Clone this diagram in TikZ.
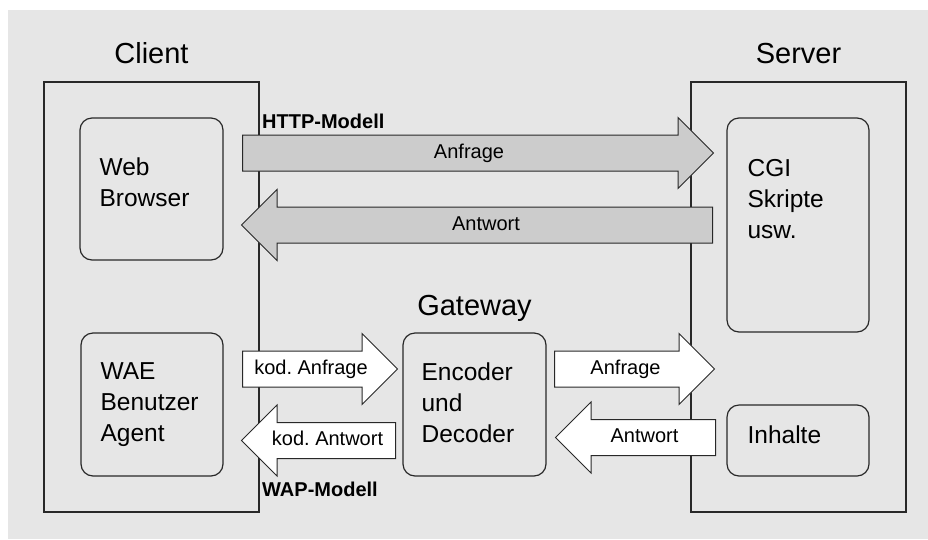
\documentclass[tikz,border=0pt]{standalone}
\usepackage{fontspec}
\setmainfont{Liberation Sans}
\usetikzlibrary{shapes.arrows}

\definecolor{bggray}{RGB}{230,230,230}
\definecolor{arrowgray}{RGB}{204,204,204}
\definecolor{linegray}{RGB}{40,40,40}

\tikzset{
    area/.style={draw=linegray, line width=1.2pt, inner sep=0pt},
    unit/.style={draw=linegray, line width=1.2pt, rounded corners=12pt, inner sep=0pt},
    unittext/.style={anchor=north west, inner sep=0pt, align=left, font=\fontsize{24.5}{31}\selectfont},
    title/.style={anchor=base, inner sep=0pt, font=\fontsize{29}{34}\selectfont},
    model/.style={anchor=base west, inner sep=0pt, font=\bfseries\fontsize{20}{24}\selectfont},
    flow/.style={single arrow, draw=linegray, line width=1pt, inner xsep=0pt, inner ysep=8pt,
        text height=14.5pt, text depth=4.5pt,
        single arrow head extend=17.5pt, single arrow tip angle=90,
        anchor=tail, font=\fontsize{20}{24}\selectfont},
    back/.style={shape border rotate=180},
}

\begin{document}
\begin{tikzpicture}[x=1pt, y=-1pt]
        \useasboundingbox (0, 0) rectangle (928, 539);
        \fill[bggray] (8, 10) rectangle (928, 539);

        % client and server side
        \node[area, minimum width=215pt, minimum height=430pt] (client) at (151.5, 297) {};
        \node[area, minimum width=215pt, minimum height=430pt] (server) at (798.5, 297) {};
        \node[title] (clienttitle) at (151.5, 63) {Client};
        \node[title] (servertitle) at (798.5, 63) {Server};
        \node[title] (gatewaytitle) at (474.5, 315) {Gateway};

        % units
        \node[unit, minimum width=143pt, minimum height=142pt] (browser) at (151.5, 189) {};
        \node[unit, minimum width=142pt, minimum height=214pt] (cgi) at (798, 225) {};
        \node[unit, minimum width=142pt, minimum height=143pt] (wae) at (152, 404.5) {};
        \node[unit, minimum width=143pt, minimum height=143pt] (codec) at (474.5, 404.5) {};
        \node[unit, minimum width=142pt, minimum height=71pt] (content) at (798, 440.5) {};
        \node[unittext] (browsertext) at ([shift={(20, 40)}]browser.north west) {Web\\Browser};
        \node[unittext] (cgitext) at ([shift={(21, 42)}]cgi.north west) {CGI\\Skripte\\usw.};
        \node[unittext] (waetext) at ([shift={(20, 30)}]wae.north west) {WAE\\Benutzer\\Agent};
        \node[unittext] (codectext) at ([shift={(19, 30)}]codec.north west) {Encoder\\und\\Decoder};
        \node[unittext] (contenttext) at ([shift={(21, 21)}]content.north west) {Inhalte};

        % HTTP model
        \node[flow, fill=arrowgray, minimum height=471pt] (httpreq) at (242, 153) {Anfrage};
        \node[flow, back, fill=arrowgray, minimum height=471pt] (httpresp) at (713, 225) {Antwort};
        \node[model] (httplabel) at (262, 128) {HTTP-Modell};

        % WAP model
        \node[flow, fill=white, minimum height=155pt] (wapreq) at (242, 369) {kod.\ Anfrage};
        \node[flow, back, fill=white, minimum height=154pt] (wapresp) at (396, 440.5) {kod.\ Antwort};
        \node[flow, fill=white, minimum height=160pt] (gwreq) at (554, 369) {Anfrage};
        \node[flow, back, fill=white, minimum height=160pt] (gwresp) at (716, 437.5) {Antwort};
        \node[model] (waplabel) at (262, 496) {WAP-Modell};
\end{tikzpicture}
\end{document}
